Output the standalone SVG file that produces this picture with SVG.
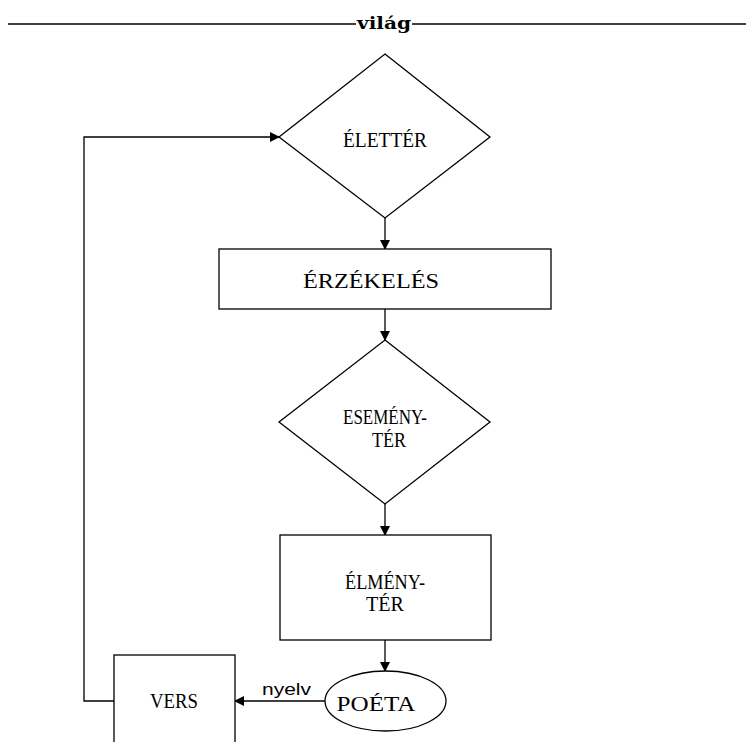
<svg xmlns="http://www.w3.org/2000/svg" width="754" height="742" viewBox="0 0 754 742">
<defs>
<style>
.shape{fill:#fff;stroke:#000;stroke-width:1.3}
.lbl{font-family:"Liberation Serif","DejaVu Serif",serif;font-size:20px;fill:#000;text-anchor:middle}
.conn{fill:none;stroke:#000;stroke-width:1.3}
.title{font-family:"DejaVu Serif",serif;font-weight:bold;font-size:17px;fill:#000}
.edge{font-family:"Liberation Sans",Arial,sans-serif;font-size:16px;fill:#000}
</style>
<marker id="arr" markerWidth="10" markerHeight="10" refX="9" refY="5" orient="auto" markerUnits="userSpaceOnUse">
<path d="M0,0 L10,5 L0,10 Z" fill="#000"/>
</marker>
</defs>
<rect width="754" height="742" fill="#fff"/>
<g id="title">
<line x1="8" y1="24" x2="356" y2="24" stroke="#000" stroke-width="1.5"/>
<line x1="412" y1="24" x2="746" y2="24" stroke="#000" stroke-width="1.5"/>
<text class="title" x="357" y="29" textLength="54" lengthAdjust="spacingAndGlyphs">világ</text>
</g>
<g id="connectors">
<line class="conn" x1="385" y1="218" x2="385" y2="249" marker-end="url(#arr)"/>
<line class="conn" x1="385" y1="309" x2="385" y2="340" marker-end="url(#arr)"/>
<line class="conn" x1="385" y1="504" x2="385" y2="535" marker-end="url(#arr)"/>
<line class="conn" x1="385" y1="640" x2="385" y2="671" marker-end="url(#arr)"/>
<line class="conn" x1="325" y1="701" x2="235" y2="701" marker-end="url(#arr)"/>
<polyline class="conn" points="114,701 84,701 84,137 279,137" marker-end="url(#arr)"/>
<text class="edge" x="262" y="695" textLength="49" lengthAdjust="spacingAndGlyphs">nyelv</text>
</g>
<g id="elletter">
<polygon class="shape" points="385,54 490,137 385,218 279,137"/>
<text class="lbl" x="385" y="147" textLength="84" lengthAdjust="spacingAndGlyphs">ÉLETTÉR</text>
</g>
<g id="erzekeles">
<rect class="shape" x="219" y="249" width="332" height="60"/>
<text class="lbl" x="371" y="288" textLength="136" lengthAdjust="spacingAndGlyphs">ÉRZÉKELÉS</text>
</g>
<g id="esemenyter">
<polygon class="shape" points="385,340 490,422 385,504 279,422"/>
<text class="lbl" x="385" y="424" textLength="84" lengthAdjust="spacingAndGlyphs">ESEMÉNY-</text>
<text class="lbl" x="389" y="447" textLength="34" lengthAdjust="spacingAndGlyphs">TÉR</text>
</g>
<g id="elmenyter">
<rect class="shape" x="280" y="535" width="211" height="105"/>
<text class="lbl" x="385" y="589" textLength="80" lengthAdjust="spacingAndGlyphs">ÉLMÉNY-</text>
<text class="lbl" x="385" y="611" textLength="38" lengthAdjust="spacingAndGlyphs">TÉR</text>
</g>
<g id="poeta">
<ellipse class="shape" cx="385.5" cy="701" rx="60.5" ry="30"/>
<text class="lbl" x="376" y="711" textLength="79" lengthAdjust="spacingAndGlyphs">POÉTA</text>
</g>
<g id="vers">
<rect class="shape" x="114" y="655" width="121" height="100"/>
<text class="lbl" x="174" y="708" textLength="48" lengthAdjust="spacingAndGlyphs">VERS</text>
</g>
</svg>
